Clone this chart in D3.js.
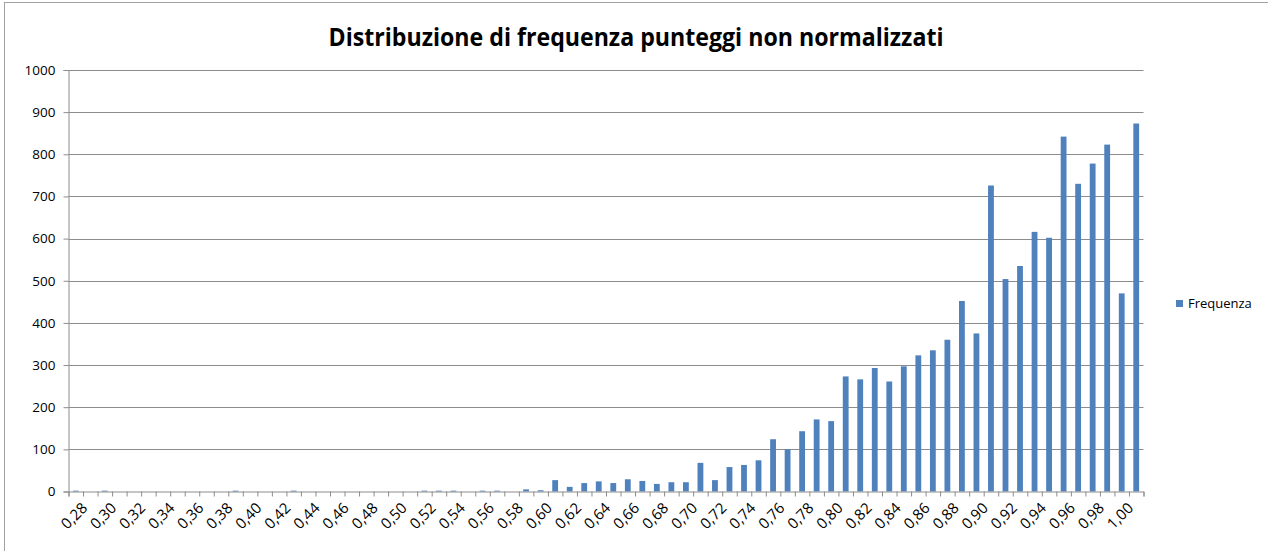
<!DOCTYPE html>
<html>
<head>
<meta charset="utf-8">
<script src="https://cdnjs.cloudflare.com/ajax/libs/d3/7.8.5/d3.min.js"></script>
<style>
  html, body { margin: 0; padding: 0; background: #fff; }
  svg { display: block; }
</style>
</head>
<body>
<svg id="chart" width="1268" height="551"></svg>
<script>
'use strict';

const categories = [
  '0,28', '0,29', '0,30', '0,31', '0,32', '0,33', '0,34', '0,35', '0,36', '0,37',
  '0,38', '0,39', '0,40', '0,41', '0,42', '0,43', '0,44', '0,45', '0,46', '0,47',
  '0,48', '0,49', '0,50', '0,51', '0,52', '0,53', '0,54', '0,55', '0,56', '0,57',
  '0,58', '0,59', '0,60', '0,61', '0,62', '0,63', '0,64', '0,65', '0,66', '0,67',
  '0,68', '0,69', '0,70', '0,71', '0,72', '0,73', '0,74', '0,75', '0,76', '0,77',
  '0,78', '0,79', '0,80', '0,81', '0,82', '0,83', '0,84', '0,85', '0,86', '0,87',
  '0,88', '0,89', '0,90', '0,91', '0,92', '0,93', '0,94', '0,95', '0,96', '0,97',
  '0,98', '0,99', '1,00', 'Altro'
];

const frequenza = [
  2, 0, 2, 0, 0, 0, 0, 0, 0, 0,
  0, 2, 0, 0, 0, 2, 0, 0, 0, 0,
  0, 0, 0, 0, 2, 2, 2, 0, 2, 2,
  0, 5, 3, 27, 11, 20, 24, 20, 29, 25,
  18, 22, 22, 68, 27, 58, 63, 74, 124, 100,
  143, 171, 167, 273, 266, 293, 261, 297, 323, 335,
  360, 452, 375, 726, 504, 535, 616, 602, 842, 730,
  778, 823, 470, 873
];

const yTicks = [0, 100, 200, 300, 400, 500, 600, 700, 800, 900, 1000];

const title = 'Distribuzione di frequenza punteggi non normalizzati';
const seriesName = 'Frequenza';

function Main() {
  const kLeft = 68.5;
  const kRight = 1143.5;
  const kTop = 70;
  const kBottom = 491.5;
  const kBarColor = '#4f81bd';
  const kLineColor = '#8c8c8c';
  const kFont = '"Open Sans", "Liberation Sans", Arial, sans-serif';

  const svg = d3.select('#chart');

  // chart frame (only left and top edges are inside the picture)
  svg.append('rect')
      .attr('x', 4.5)
      .attr('y', 2.5)
      .attr('width', 1300)
      .attr('height', 600)
      .attr('fill', 'none')
      .attr('stroke', '#a0a0a0');

  svg.append('text')
      .attr('x', 636)
      .attr('y', 46)
      .attr('text-anchor', 'middle')
      .attr('font-family', '"Liberation Sans Narrow", "Open Sans", sans-serif')
      .attr('font-weight', 'bold')
      .attr('font-size', 25)
      .attr('textLength', 615)
      .attr('lengthAdjust', 'spacingAndGlyphs')
      .text(title);

  const x = d3.scaleBand()
      .domain(categories)
      .range([kLeft, kRight])
      .paddingInner(0.6)
      .paddingOuter(0.3);

  const y = d3.scaleLinear()
      .domain([0, 1000])
      .range([kBottom, kTop]);

  // horizontal gridlines
  svg.append('g').selectAll('line')
      .data(yTicks.filter(function(t) { return t > 0; }))
    .enter().append('line')
      .attr('x1', kLeft)
      .attr('x2', kRight)
      .attr('y1', function(d) { return Math.round(y(d)) + 0.5; })
      .attr('y2', function(d) { return Math.round(y(d)) + 0.5; })
      .attr('stroke', kLineColor);

  // y axis
  const yAxis = svg.append('g')
      .attr('transform', 'translate(' + kLeft + ',0)')
      .call(d3.axisLeft(y).tickValues(yTicks).tickSize(5).tickPadding(8)
          .tickFormat(d3.format('d')));
  yAxis.selectAll('path, line').attr('stroke', kLineColor);
  yAxis.selectAll('text')
      .attr('font-family', kFont)
      .attr('font-size', 13.5)
      .attr('fill', '#000');

  // bars
  svg.append('g').selectAll('rect')
      .data(frequenza)
    .enter().append('rect')
      .attr('x', function(d, i) { return x(categories[i]); })
      .attr('width', x.bandwidth())
      .attr('y', function(d) { return y(d); })
      .attr('height', function(d) { return kBottom - y(d); })
      .attr('fill', kBarColor);

  // x axis: ticks between categories
  const xEdges = d3.scaleLinear()
      .domain([0, categories.length])
      .range([kLeft, kRight]);
  const xAxis = svg.append('g')
      .attr('transform', 'translate(0,' + kBottom + ')')
      .call(d3.axisBottom(xEdges).tickValues(d3.range(categories.length + 1))
          .tickSize(5).tickFormat(''));
  xAxis.selectAll('path, line').attr('stroke', kLineColor);

  // rotated category labels, every other one
  svg.append('g').selectAll('text')
      .data(categories.filter(function(c, i) { return i % 2 === 0; }))
    .enter().append('text')
      .attr('transform', function(d) {
        const cx = x(d) + x.bandwidth() / 2 + 5;
        return 'translate(' + cx + ',' + (kBottom + 10) + ') rotate(-45)';
      })
      .attr('dy', '0.71em')
      .attr('text-anchor', 'end')
      .attr('font-family', kFont)
      .attr('font-size', 15)
      .attr('fill', '#000')
      .text(function(d) { return d; });

  // legend
  const legend = svg.append('g').attr('transform', 'translate(1176,300)');
  legend.append('rect')
      .attr('width', 7)
      .attr('height', 7)
      .attr('fill', kBarColor);
  legend.append('text')
      .attr('x', 12)
      .attr('y', 8)
      .attr('font-family', kFont)
      .attr('font-size', 13)
      .attr('fill', '#000')
      .text(seriesName);
}

Main();
</script>
</body>
</html>
